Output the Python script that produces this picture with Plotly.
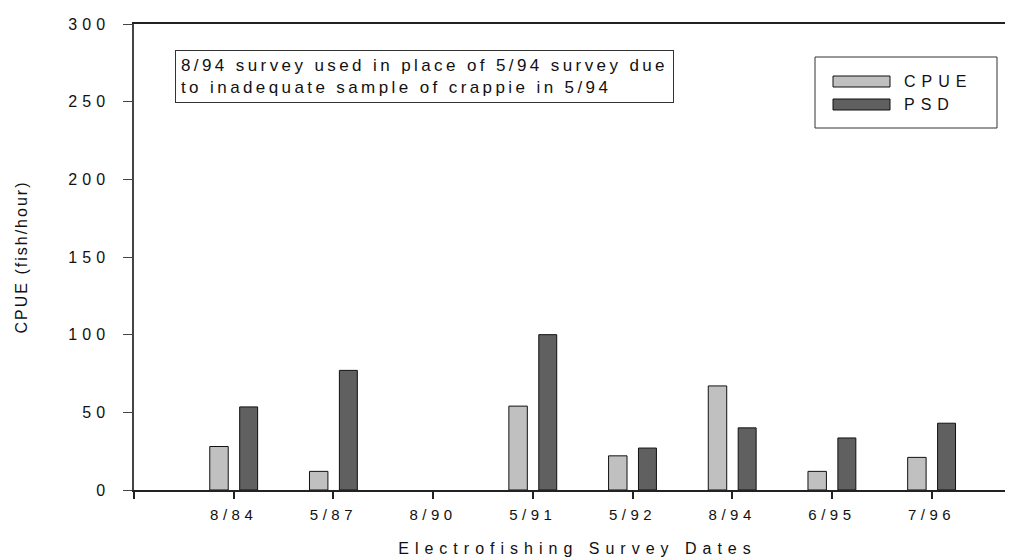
import plotly.graph_objects as go

# ---- data ----
dates = ["8/84", "5/87", "8/90", "5/91", "5/92", "8/94", "6/95", "7/96"]
cpue = [28, 12, None, 54, 22, 67, 12, 21]
psd = [53.5, 77, None, 100, 27, 40, 33.5, 43]
y_ticks = [0, 50, 100, 150, 200, 250, 300]
series_names = ["CPUE", "PSD"]
note_lines = ["8/94 survey used in place of 5/94 survey due",
              "to inadequate sample of crappie in 5/94"]
x_title = "Electrofishing Survey Dates"
y_title = "CPUE (fish/hour)"

# ---- layout geometry ----
W, H = 1013, 560
L, R, T, B = 126, 0, 16, 78
PW, PH = W - L - R, H - T - B
FONT = "Liberation Sans, Arial, sans-serif"
colors = ["#c0c0c0", "#606060"]


def px(x):
    return (x - L) / PW


def py(y):
    return (H - B - y) / PH


def sp(text, ls):
    return f'<span style="letter-spacing:{ls}px">{text}</span>'


idx = list(range(len(dates)))

fig = go.Figure()
fig.add_trace(go.Bar(x=idx, y=cpue, name=series_names[0], width=0.185, offset=-0.24,
                     marker=dict(color=colors[0], line=dict(color="#111", width=1)),
                     showlegend=False))
fig.add_trace(go.Bar(x=idx, y=psd, name=series_names[1], width=0.18, offset=0.06,
                     marker=dict(color=colors[1], line=dict(color="#111", width=1)),
                     showlegend=False))

fig.update_layout(
    width=W, height=H,
    margin=dict(l=L, r=R, t=T, b=B, autoexpand=False),
    paper_bgcolor="white", plot_bgcolor="white",
    barmode="overlay",
    font=dict(family=FONT, color="#111", size=15),
    xaxis=dict(range=[-1, -1 + PW / 99.7], tickvals=[-1] + idx,
               ticktext=[""] + [sp(d, 4.5) for d in dates],
               showline=True, linecolor="#222", linewidth=1.5, mirror=True,
               ticks="outside", ticklen=7, tickcolor="#222", tickwidth=1.5,
               showgrid=False, zeroline=False, ticklabelstandoff=3,
               tickfont=dict(size=15),
               title=dict(text=sp(x_title, 6), font=dict(size=16), standoff=21)),
    yaxis=dict(range=[0, 300], tickvals=y_ticks,
               ticktext=[sp(str(v), 5) for v in y_ticks],
               showline=True, linecolor="#444", linewidth=1.5,
               ticks="outside", ticklen=9, tickcolor="#444", tickwidth=1.2,
               showgrid=False, zeroline=False, ticklabelstandoff=10,
               tickfont=dict(size=16),
               title=dict(text=sp(y_title, 2), font=dict(size=16), standoff=37)),
)

# note box
fig.add_annotation(xref="paper", yref="paper", x=px(167), y=py(42),
                   xanchor="left", yanchor="top", showarrow=False, align="left",
                   text="<br>".join(sp(t, 3.4) for t in note_lines),
                   font=dict(size=17), bordercolor="#333", borderwidth=1,
                   borderpad=5, bgcolor="white")

# legend (drawn)
fig.add_shape(type="rect", xref="paper", yref="paper", x0=px(807), x1=px(989),
              y0=py(49), y1=py(120), line=dict(color="#333", width=1),
              fillcolor="white")
sw_y = [(68, 79), (91, 102)]
for name, col, (a, b) in zip(series_names, colors, sw_y):
    fig.add_shape(type="rect", xref="paper", yref="paper", x0=px(825), x1=px(882),
                  y0=py(a), y1=py(b), line=dict(color="#111", width=1),
                  fillcolor=col)
    fig.add_annotation(xref="paper", yref="paper", x=px(894), y=py((a + b) / 2),
                       xanchor="left", yanchor="middle", showarrow=False,
                       text=sp(name, 6), font=dict(size=16))

fig.write_html("out.html")
